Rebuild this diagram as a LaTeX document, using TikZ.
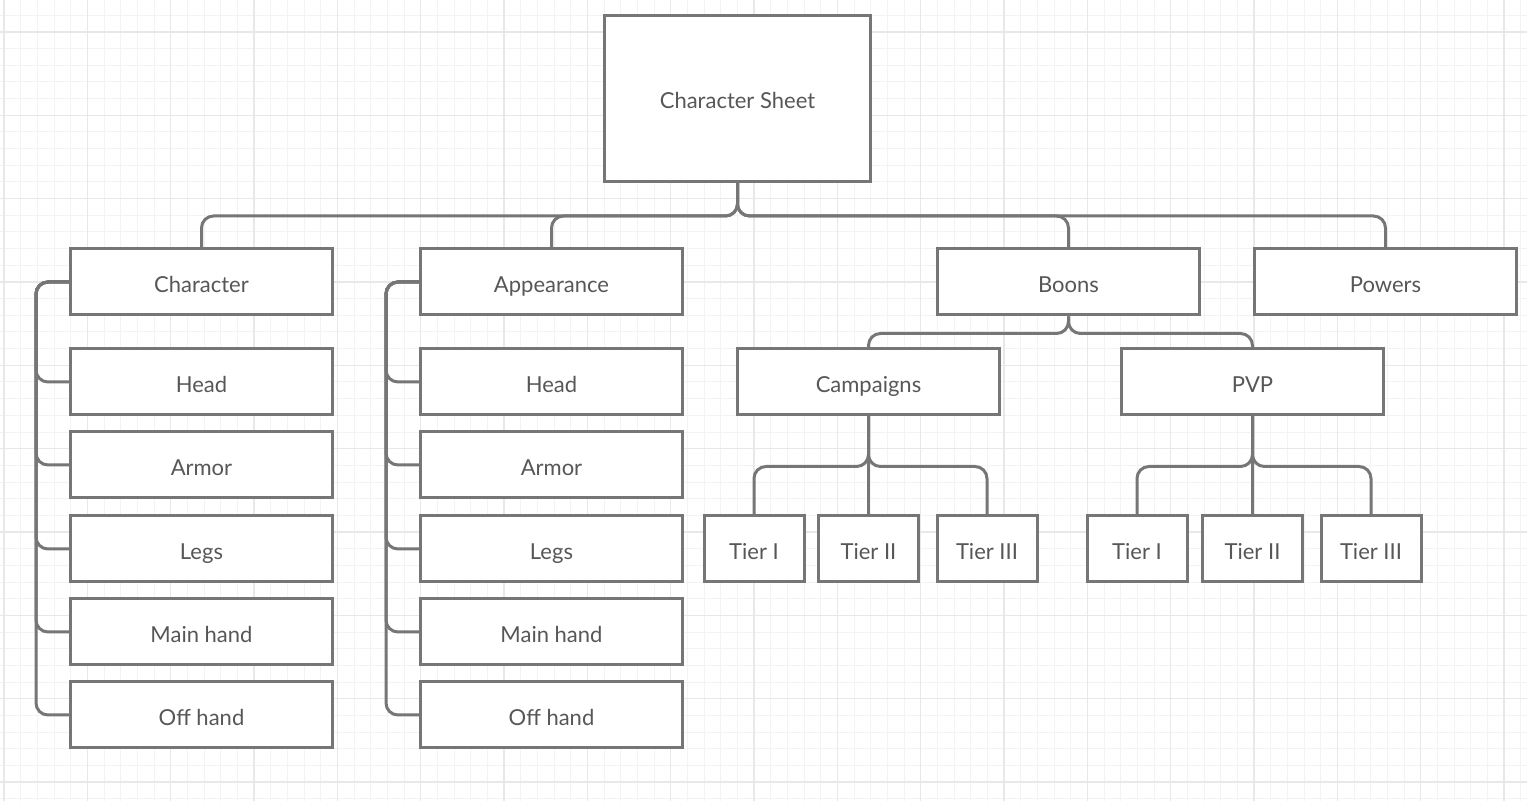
\documentclass[tikz,border=0pt]{standalone}
\usepackage{fontspec}
\setmainfont{Lato}
\usepackage{tikz}
\definecolor{linegray}{HTML}{767676}
\definecolor{textgray}{HTML}{575757}
\definecolor{majorgray}{HTML}{E8E8E8}
\definecolor{minorgray}{HTML}{F3F3F3}
\tikzset{
	box/.style={draw=linegray,line width=1.5pt,fill=white,text=textgray,inner sep=0pt,minimum width=131pt,minimum height=33pt,text height=10.5pt,text depth=0pt,font=\fontsize{11}{13}\selectfont},
	bigbox/.style={box,minimum width=133pt,minimum height=83pt},
	tier/.style={box,minimum width=50pt},
	conn/.style={draw=linegray,line width=1.5pt,rounded corners=6pt},
	minorgrid/.style={draw=minorgray,line width=0.5pt},
	majorgrid/.style={draw=majorgray,line width=0.7pt}
}
\begin{document}
\begin{tikzpicture}[x=0.5pt,y=-0.5pt]
	\useasboundingbox (0,0) rectangle (1527,801);
	\fill[white] (0,0) rectangle (1527,801);
	% grid
	\foreach \i in {0,...,91} \draw[minorgrid] ({4+16.667*\i},0) -- ({4+16.667*\i},801);
	\foreach \i in {0,...,47} \draw[minorgrid] (0,{15.33+16.667*\i}) -- (1527,{15.33+16.667*\i});
	\foreach \i in {0,...,18} \draw[majorgrid] ({4+83.33*\i},0) -- ({4+83.33*\i},801);
	\foreach \i in {0,...,9} \draw[majorgrid] (0,{32+83.33*\i}) -- (1527,{32+83.33*\i});

	\node [bigbox] (sheet) at (737.5,98.5) {Character Sheet};

	\node [box] (char) at (201.5,282) {Character};
	\node [box] (app) at (551.5,282) {Appearance};
	\node [box] (boons) at (1068.5,282) {Boons};
	\node [box] (powers) at (1385.5,282) {Powers};

	\node [box] (chead) at (201.5,382) {Head};
	\node [box] (carmor) at (201.5,465) {Armor};
	\node [box] (clegs) at (201.5,549) {Legs};
	\node [box] (cmain) at (201.5,632) {Main hand};
	\node [box] (coff) at (201.5,715) {Off hand};

	\node [box] (ahead) at (551.5,382) {Head};
	\node [box] (aarmor) at (551.5,465) {Armor};
	\node [box] (alegs) at (551.5,549) {Legs};
	\node [box] (amain) at (551.5,632) {Main hand};
	\node [box] (aoff) at (551.5,715) {Off hand};

	\node [box] (camp) at (868.5,382) {Campaigns};
	\node [box] (pvp) at (1252.5,382) {PVP};

	\node [tier] (ctone) at (754,549) {Tier I};
	\node [tier] (cttwo) at (868.5,549) {Tier II};
	\node [tier] (ctthree) at (987,549) {Tier III};
	\node [tier] (ptone) at (1137,549) {Tier I};
	\node [tier] (pttwo) at (1252.5,549) {Tier II};
	\node [tier] (ptthree) at (1371,549) {Tier III};

	% top level
	\draw [conn] (sheet.south) -- ++(0,33) -| (char.north);
	\draw [conn] (sheet.south) -- ++(0,33) -| (app.north);
	\draw [conn] (sheet.south) -- ++(0,33) -| (boons.north);
	\draw [conn] (sheet.south) -- ++(0,33) -| (powers.north);

	% side lists
	\foreach \c in {chead,carmor,clegs,cmain,coff}
		\draw [conn] (char.west) -- ++(-33,0) |- (\c.west);
	\foreach \c in {ahead,aarmor,alegs,amain,aoff}
		\draw [conn] (app.west) -- ++(-33,0) |- (\c.west);

	% boons
	\draw [conn] (boons.south) -- ++(0,17) -| (camp.north);
	\draw [conn] (boons.south) -- ++(0,17) -| (pvp.north);

	\draw [conn] (camp.south) -- ++(0,50) -| (ctone.north);
	\draw [conn] (camp.south) -- (cttwo.north);
	\draw [conn] (camp.south) -- ++(0,50) -| (ctthree.north);
	\draw [conn] (pvp.south) -- ++(0,50) -| (ptone.north);
	\draw [conn] (pvp.south) -- (pttwo.north);
	\draw [conn] (pvp.south) -- ++(0,50) -| (ptthree.north);
\end{tikzpicture}
\end{document}
